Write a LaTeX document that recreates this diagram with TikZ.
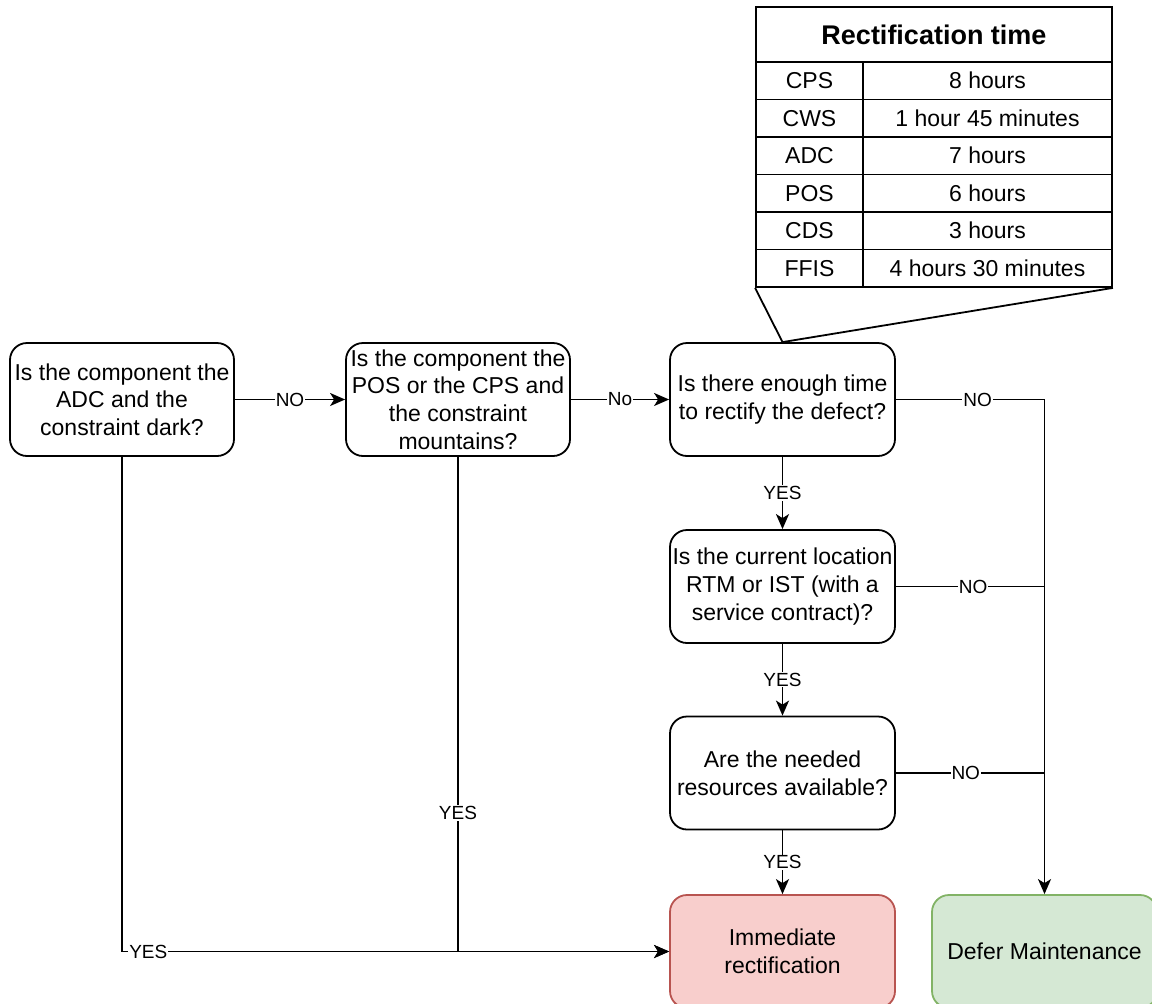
\documentclass[tikz,border=0pt]{standalone}
\usepackage{fontspec}
\setmainfont{Liberation Sans}
\usetikzlibrary{arrows.meta}
\definecolor{redfill}{HTML}{F8CECC}
\definecolor{redline}{HTML}{B85450}
\definecolor{greenfill}{HTML}{D5E8D4}
\definecolor{greenline}{HTML}{82B366}
\begin{document}
\begin{tikzpicture}[x=1pt,y=-1pt,
  box/.style={draw=black, line width=1.8pt, rounded corners=17pt, minimum width=225pt, minimum height=113pt, inner sep=0pt, align=center, font=\fontsize{23}{27.6}\selectfont, fill=white},
  lbl/.style={fill=white, inner sep=1pt, font=\fontsize{19}{22}\selectfont},
  conn/.style={line width=1.8pt, draw=black},
  arr/.style={conn, -{Stealth[length=15pt,width=13pt,inset=4pt]}},
  cell/.style={draw=black, line width=1.8pt, inner sep=0pt, font=\fontsize{23}{27.6}\selectfont},
]
\useasboundingbox (0,0) rectangle (1152,1004);

% table
\node[draw=black, line width=1.8pt, minimum width=356pt, minimum height=280pt, inner sep=0pt] (tbl) at (934,147) {};
\node[cell, minimum width=356pt, minimum height=55pt, font=\fontsize{27}{32}\selectfont\bfseries] (hdr) at (934,34.5) {Rectification time};
\node[cell, minimum width=107pt, minimum height=37.5pt] (c1a) at (809.5,80.75) {CPS};
\node[cell, minimum width=249pt, minimum height=37.5pt] (c1b) at (987.5,80.75) {8 hours};
\node[cell, minimum width=107pt, minimum height=37.5pt] (c2a) at (809.5,118.25) {CWS};
\node[cell, minimum width=249pt, minimum height=37.5pt] (c2b) at (987.5,118.25) {1 hour 45 minutes};
\node[cell, minimum width=107pt, minimum height=37.5pt] (c3a) at (809.5,155.75) {ADC};
\node[cell, minimum width=249pt, minimum height=37.5pt] (c3b) at (987.5,155.75) {7 hours};
\node[cell, minimum width=107pt, minimum height=37.5pt] (c4a) at (809.5,193.25) {POS};
\node[cell, minimum width=249pt, minimum height=37.5pt] (c4b) at (987.5,193.25) {6 hours};
\node[cell, minimum width=107pt, minimum height=37.5pt] (c5a) at (809.5,230.75) {CDS};
\node[cell, minimum width=249pt, minimum height=37.5pt] (c5b) at (987.5,230.75) {3 hours};
\node[cell, minimum width=107pt, minimum height=37.5pt] (c6a) at (809.5,268.25) {FFIS};
\node[cell, minimum width=249pt, minimum height=37.5pt] (c6b) at (987.5,268.25) {4 hours 30 minutes};

% boxes
\node[box, minimum width=224pt] (b1) at (122,399.5) {Is the component the\\ADC and the\\constraint dark?};
\node[box, minimum width=224pt] (b2) at (458,399.5) {Is the component the\\POS or the CPS and\\the constraint\\mountains?};
\node[box] (b3) at (782.5,399.5) {Is there enough time\\to rectify the defect?};
\node[box] (b4) at (782.5,586.5) {Is the current location\\RTM or IST (with a\\service contract)?};
\node[box] (b5) at (782.5,773) {Are the needed\\resources available?};
\node[box, fill=redfill, draw=redline] (b6) at (782.5,951.5) {Immediate\\rectification};
\node[box, fill=greenfill, draw=greenline] (b7) at (1044.5,951.5) {Defer Maintenance};

% callout
\draw[conn] (tbl.south west) -- (b3.north) -- (tbl.south east);

% junctions
\coordinate (j1) at (b7.north |- b3.east);
\coordinate (j2) at (b7.north |- b4.east);
\coordinate (j3) at (b7.north |- b5.east);

% connectors
\draw[arr] (b1) -- node[lbl]{NO} (b2);
\draw[arr] (b2) -- node[lbl]{No} (b3);
\draw[arr] (b3.east) -- node[lbl,pos=0.55]{NO} (j1) -- (b7.north);
\draw[conn] (b4.east) -- node[lbl,pos=0.52]{NO} (j2);
\draw[conn] (b5.east) -- node[lbl,pos=0.47]{NO} (j3);
\draw[arr] (b3) -- node[lbl]{YES} (b4);
\draw[arr] (b4) -- node[lbl]{YES} (b5);
\draw[arr] (b5) -- node[lbl]{YES} (b6);
\draw[arr] (b1.south) |- node[lbl,pos=0.524]{YES} (b6.west);
\draw[arr] (b2.south) |- node[lbl,pos=0.36]{YES} (b6.west);
\end{tikzpicture}
\end{document}
